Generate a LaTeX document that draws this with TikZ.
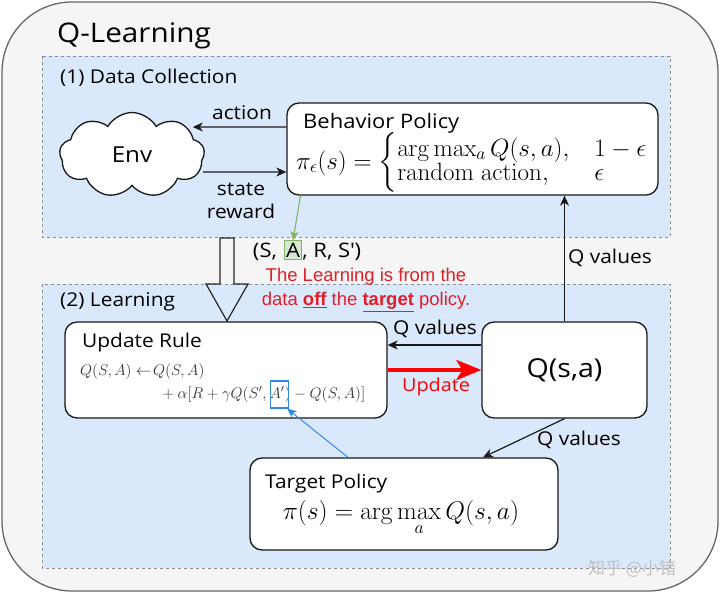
\RequirePackage{fix-cm}
\documentclass[tikz,border=0pt]{standalone}
\usepackage{amsmath}
\usepackage[no-math]{fontspec}
\setmainfont{Open Sans}[FakeStretch=1.1]
\newfontfamily\arialf{Liberation Sans}
\newfontfamily\cjk{Noto Sans CJK SC}
\usetikzlibrary{shapes.symbols,arrows.meta,calc}
\definecolor{regionblue}{RGB}{218,232,252}
\definecolor{outerfill}{RGB}{245,245,245}
\definecolor{outerdraw}{RGB}{102,102,102}
\definecolor{greenfill}{RGB}{213,232,212}
\definecolor{greendraw}{RGB}{130,179,102}
\definecolor{bluemark}{RGB}{51,136,230}
\definecolor{redtext}{RGB}{224,32,40}
\newcommand{\myfs}[1]{\fontsize{#1}{#1}\selectfont}
\begin{document}
\begin{tikzpicture}[x=1pt,y=-1pt,
  region/.style={fill=regionblue, draw=gray!90, dash pattern=on 3pt off 3pt, line width=0.9pt},
  box/.style={draw=black!90, fill=white, rounded corners=12pt, line width=1.3pt, inner sep=0pt},
  lbl/.style={font=\myfs{19}, inner sep=0pt},
  arr/.style={draw=black!90, line width=1.2pt, -{Stealth[length=10pt,width=9pt,inset=3pt]}},
]
\useasboundingbox (0,0) rectangle (720,594);
\draw[draw=outerdraw, fill=outerfill, line width=1.3pt, rounded corners=70pt] (2,2) rectangle (718,591);
\draw[region] (42,56) rectangle (670,237);
\draw[region] (42,284) rectangle (670,568);

\node[anchor=base west, font=\myfs{27}, inner sep=0pt] (title) at (57,43) {Q-Learning};
\node[lbl, anchor=base west] (dc) at (60,83) {(1) Data Collection};
\node[lbl, anchor=base west] (lr) at (60,306) {(2) Learning};

% Behavior policy
\node[box, minimum width=371pt, minimum height=92pt] (bp) at (472.5,149) {};
\node[lbl, font=\myfs{20}, anchor=base west] (bpt) at (303,128) {Behavior Policy};
\node[anchor=base west, inner sep=0pt, font=\fontsize{25}{20.5}\selectfont] (bpf) at (296,169)
  {$\pi_\epsilon(s)=\begin{cases}\arg\max_a Q(s,a), & 1-\epsilon\\ \mathrm{random\ action}, & \epsilon\end{cases}$};

% Env
\node[cloud, cloud puffs=9, cloud puff arc=120, aspect=1.7, draw=black!90, fill=white, line width=1.3pt,
      minimum width=145pt, minimum height=85pt, inner sep=0pt, font=\myfs{22}] (env) at (132,155) {Env};

\draw[arr] ([yshift=22pt]bp.west) -- ([xshift=-12pt,yshift=28pt]env.east);
\node[lbl, anchor=base] (actl) at (242,119) {action};
\draw[arr] ([xshift=-2pt,yshift=-17pt]env.east) -- ([yshift=-23pt]bp.west);
\node[lbl, anchor=base] (stl) at (241,195) {state};
\node[lbl, anchor=base] (rwl) at (241,218) {reward};

% (S, A, R, S')
\node[draw=greendraw, fill=greenfill, inner xsep=1.5pt, inner ysep=2pt, font=\myfs{20}, anchor=base] (A) at (293,257) {A};
\node[anchor=base east, inner sep=0pt, font=\myfs{20}] (sl) at ([xshift=-0.5pt]A.base west) {(S,\,\,};
\node[anchor=base west, inner sep=0pt, font=\myfs{20}] (sr) at ([xshift=0.5pt]A.base east) {, R, S\textquotesingle)};
\draw[draw=greendraw, line width=1.1pt, -{Stealth[length=9pt,width=8pt,inset=2pt]}] ([xshift=-172pt]bp.south) -- (A.north);

% red note
\node[anchor=base, inner sep=0pt, font=\arialf\myfs{18.5}, text=redtext] (red1) at (366,281) {The Learning is from the};
\node[anchor=base, inner sep=0pt, font=\arialf\myfs{18.5}, text=redtext] (red2) at (366,305) {data \textbf{\underline{off}} the \textbf{\underline{target}} policy.};

% hollow arrow
\draw[line width=1.2pt, draw=black!85, line join=miter] (220,238) -- (234,238) -- (234,284) -- (248,284) -- (227,321) -- (206,284) -- (220,284) -- cycle;

% Update rule
\node[box, minimum width=322pt, minimum height=96pt] (ur) at (226,370) {};
\node[lbl, anchor=base west] (urt) at (82,347) {Update Rule};
\node[anchor=base west, inner sep=0pt, font=\myfs{15.5}, text=black!80] (ur1) at (80,375) {$Q(S,A) \leftarrow\!Q(S,A)$};
\node[anchor=base, inner sep=0pt, font=\myfs{15.5}, text=black!80] (ap) at (277,398) {$A'$};
\node[anchor=base east, inner sep=0pt, font=\myfs{15.5}, text=black!80] (ur2a) at (ap.base west) {${}+\alpha[R+\gamma Q(S',\,$};
\node[anchor=base west, inner sep=0pt, font=\myfs{15.5}, text=black!80] (ur2b) at (ap.base east) {$)-Q(S,A)]$};
\node[draw=bluemark, line width=1.5pt, minimum width=18pt, minimum height=27pt, inner sep=0pt] (apbox) at (279.5,394.5) {};

% Q(s,a)
\node[box, minimum width=165pt, minimum height=96pt, font=\myfs{26}] (qsa) at (564.5,370) {Q(s,a)};

% Target policy
\node[box, minimum width=308pt, minimum height=92pt] (tp) at (404,504) {};
\node[lbl, anchor=base west] (tpt) at (265,488) {Target Policy};
\node[anchor=base, inner sep=0pt, font=\myfs{25.5}] (tpf) at (401,519) {$\pi(s)=\displaystyle\arg\max_a Q(s,a)$};

% connectors
\draw[arr] (qsa.north) -- (qsa.north |- bp.south);
\node[lbl, anchor=base west] (qv1) at (568,263) {Q values};
\draw[arr] ([yshift=25pt]qsa.west) -- ([yshift=25pt]qsa.west -| ur.east);
\node[lbl, anchor=base] (qv2) at (435,334) {Q values};
\draw[draw=red, line width=4pt, -{Stealth[length=25pt,width=20pt,inset=6pt]}] (ur.east) -- (qsa.west);
\node[font=\myfs{18}, text=red, anchor=base, inner sep=0pt] (upl) at (436,391) {Update};
\draw[arr] (qsa.south) -- ([xshift=79pt]tp.north);
\node[lbl, anchor=base] (qv3) at (579,445) {Q values};
\draw[draw=bluemark, line width=1pt, -{Stealth[length=9pt,width=8pt,inset=2pt]}] ([xshift=-56pt]tp.north) -- ([xshift=-2pt]apbox.south east);

% watermark
\node[anchor=base west, font=\cjk\myfs{17}, text=gray!50, inner sep=0pt] (wm) at (588,574) {知乎 @小锗};
\end{tikzpicture}
\end{document}
